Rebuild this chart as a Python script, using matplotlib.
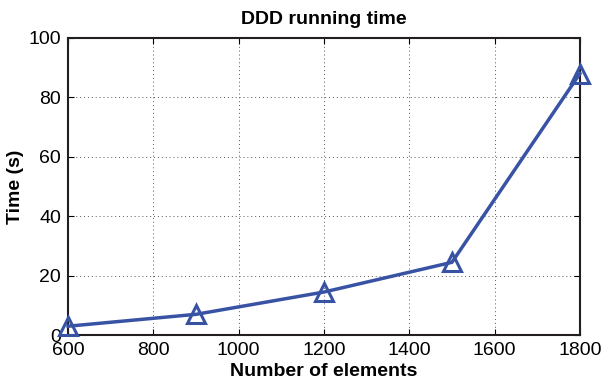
import numpy as np
import matplotlib.pyplot as plt

# data
elements = [600, 900, 1200, 1500, 1800]
times = [3, 7, 14.5, 24.5, 88]

plt.rcParams['font.family'] = ['Liberation Sans', 'DejaVu Sans']

fig = plt.figure(figsize=(6.13, 3.83), dpi=100)
ax = fig.add_axes([0.111, 0.125, 0.835, 0.776])

ax.plot(elements, times, color='#3953a4', linewidth=2.5, marker='^',
        markersize=13, markerfacecolor='none', markeredgewidth=2.2,
        clip_on=False, zorder=3)

ax.set_xlim(600, 1800)
ax.set_ylim(0, 100)
ax.set_xticks(np.arange(600, 1801, 200))
ax.set_yticks(np.arange(0, 101, 20))
ax.tick_params(direction='in', top=True, right=True, labelsize=14, length=4, pad=5)
ax.grid(True, linestyle=(0, (1, 3)), color='#555555', linewidth=0.7)
for s in ax.spines.values():
    s.set_linewidth(1.5)
    s.set_color('#231f20')

ax.set_title('DDD running time', fontsize=14, fontweight='bold', pad=10)
ax.set_xlabel('Number of elements', fontsize=14, fontweight='bold', labelpad=3)
ax.set_ylabel('Time (s)', fontsize=14, fontweight='bold', labelpad=3)

fig.savefig('out.png', dpi=100)
